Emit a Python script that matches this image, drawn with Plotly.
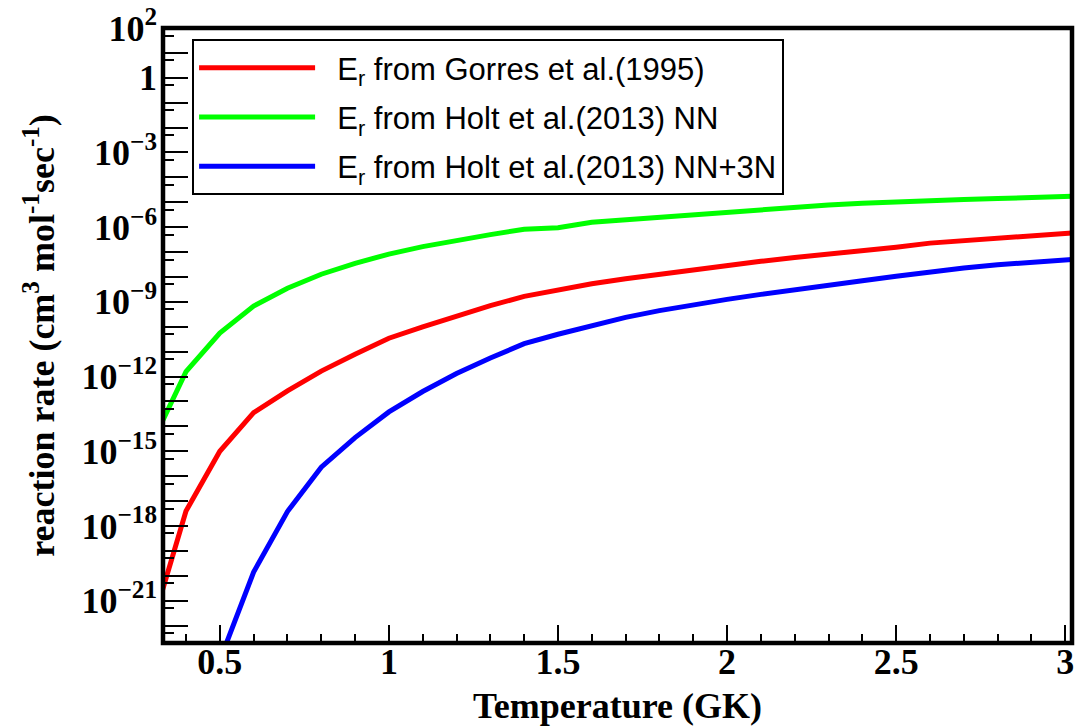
import plotly.graph_objects as go

# Temperatures (GK)
temps = [0.33, 0.4, 0.5, 0.6, 0.7, 0.8, 0.9, 1.0, 1.1, 1.2, 1.3, 1.4, 1.5, 1.6, 1.7, 1.8,
         1.9, 2.0, 2.1, 2.2, 2.3, 2.4, 2.5, 2.6, 2.7, 2.8, 2.9, 3.0, 3.02]
temps_blue = temps[2:]

# Reaction rates (cm^3 mol^-1 s^-1)
rate_gorres = [2.51e-21, 3.98e-18, 1.0e-15, 3.55e-14, 2.69e-13, 1.66e-12, 7.94e-12, 3.47e-11,
               1.0e-10, 2.69e-10, 7.08e-10, 1.66e-9, 3.16e-9, 5.37e-9, 8.51e-9, 1.29e-8,
               1.91e-8, 2.88e-8, 4.27e-8, 6.03e-8, 8.13e-8, 1.12e-7, 1.58e-7, 2.29e-7,
               2.88e-7, 3.72e-7, 4.68e-7, 5.62e-7, 5.9e-7]
rate_holt_nn = [1.58e-14, 1.58e-12, 5.62e-11, 6.76e-10, 3.55e-9, 1.29e-8, 3.55e-8, 8.32e-8,
                1.66e-7, 3.02e-7, 5.01e-7, 8.32e-7, 9.55e-7, 1.58e-6, 2.0e-6, 2.57e-6,
                3.31e-6, 4.17e-6, 5.25e-6, 6.46e-6, 7.76e-6, 9.12e-6, 1.05e-5, 1.17e-5,
                1.29e-5, 1.41e-5, 1.55e-5, 1.70e-5, 1.74e-5]
rate_holt_nn3n = [3.98e-24, 1.41e-20, 3.80e-18, 2.29e-16, 3.55e-15, 3.80e-14, 2.51e-13, 1.32e-12,
                  5.62e-12, 2.09e-11, 5.01e-11, 1.12e-10, 2.40e-10, 4.47e-10, 7.76e-10, 1.26e-9,
                  2.0e-9, 3.16e-9, 4.68e-9, 7.08e-9, 1.07e-8, 1.62e-8, 2.29e-8, 3.09e-8,
                  3.89e-8, 4.79e-8, 5.0e-8]

pad = "\u00a0\u00a0"
names = [pad + "E<sub>r</sub> from Gorres et al.(1995)",
         pad + "E<sub>r</sub> from Holt et al.(2013) NN",
         pad + "E<sub>r</sub> from Holt et al.(2013) NN+3N"]
colors = ["#ff0000", "#00ff00", "#0000ff"]

# y tick labels: every decade has a tick, some are labelled
decades = list(range(-22, 3))
labelled = [2, 0, -3, -6, -9, -12, -15, -18, -21]


def dec_label(n):
    if n not in labelled:
        return ""
    if n == 0:
        return "1"
    return "10<sup>" + str(n).replace("-", "\u2212") + "</sup>"


y_tickvals = [10.0 ** n for n in decades]
y_ticktext = [dec_label(n) for n in decades]
y_minor = [5 * 10.0 ** (n - 1) for n in decades]

fig = go.Figure()
series = [(temps, rate_gorres), (temps, rate_holt_nn), (temps_blue, rate_holt_nn3n)]
for i, ((xs, ys), nm, c) in enumerate(zip(series, names, colors)):
    fig.add_trace(go.Scatter(x=xs, y=ys, mode="lines", name=nm, legendgroup=f"g{i}",
                             line=dict(color=c, width=5)))

serif_bold = dict(family="Liberation Serif", size=36, color="black", weight="bold")

fig.update_xaxes(
    range=[0.332, 3.02], tick0=0.5, dtick=0.5,
    ticks="inside", ticklen=18, tickwidth=2, tickcolor="black",
    minor=dict(dtick=0.1, tick0=0, ticks="inside", ticklen=9, tickwidth=2, tickcolor="black"),
    showline=False, showgrid=False, zeroline=False, automargin=False,
    tickfont=serif_bold, ticklabelstandoff=-6, ticklabeloverflow="allow",
    title=dict(text="Temperature (GK)", font=serif_bold, standoff=12),
)
fig.update_yaxes(
    type="log", range=[-22.7, 2.0],
    tickmode="array", tickvals=y_tickvals, ticktext=y_ticktext,
    ticks="inside", ticklen=25, tickwidth=2, tickcolor="black",
    minor=dict(tickvals=y_minor, ticks="inside", ticklen=11, tickwidth=2, tickcolor="black"),
    showline=False, showgrid=False, zeroline=False, automargin=False,
    tickfont=serif_bold, ticklabelstandoff=5, ticklabeloverflow="allow",
    title=dict(text="reaction rate (cm<sup>3</sup> mol<sup>-1</sup>sec<sup>-1</sup>)",
               font=serif_bold, standoff=15),
)

# plot frame
fig.add_shape(type="rect", xref="paper", yref="paper", x0=0, y0=0, x1=1, y1=1,
              line=dict(color="black", width=4.5), fillcolor="rgba(0,0,0,0)", layer="above")

fig.update_layout(
    width=1076, height=726,
    margin=dict(l=163, r=4, t=28, b=83),
    paper_bgcolor="white", plot_bgcolor="white",
    showlegend=True,
    legend=dict(
        x=0.032, y=0.982, xanchor="left", yanchor="top",
        bgcolor="white", bordercolor="black", borderwidth=2,
        font=dict(family="Liberation Sans", size=31, color="black"),
        itemwidth=116, tracegroupgap=6, traceorder="grouped",
    ),
)

fig.write_html(
    "out.html",
    config={"displayModeBar": False},
    post_script="document.body.style.margin='0px';document.body.style.overflow='hidden';",
)
